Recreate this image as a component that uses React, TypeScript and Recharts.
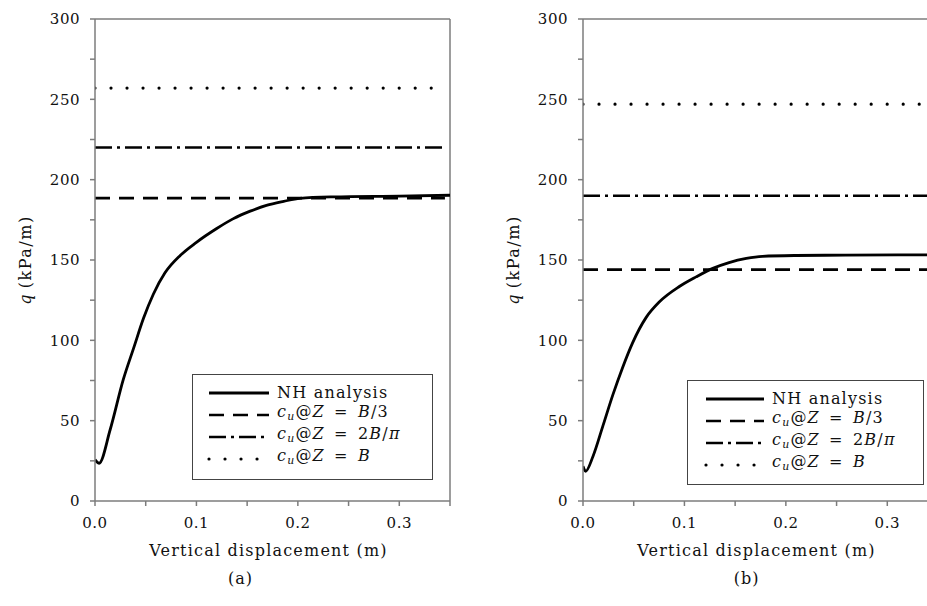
import React from "react";
import { Legend, Line, LineChart, ReferenceLine, XAxis, YAxis } from "recharts";

// axis ticks (labels only on every other tick)
const xTicks = [0, 0.05, 0.1, 0.15, 0.2, 0.25, 0.3, 0.35];
const xLabelled = [0, 0.1, 0.2, 0.3];
const yTicks = [0, 25, 50, 75, 100, 125, 150, 175, 200, 225, 250, 275, 300];
const yLabelled = [0, 50, 100, 150, 200, 250, 300];

// panel (a): NH analysis load-displacement curve
const dispA = [0, 0.004, 0.015, 0.028, 0.038, 0.048, 0.0575, 0.069, 0.084, 0.1, 0.12, 0.136, 0.153, 0.169, 0.186, 0.202, 0.235, 0.3, 0.35];
const nhA = [25.7, 23.5, 44.5, 75.8, 95, 114, 128.7, 142, 152.8, 161, 169.6, 175.6, 180.4, 184, 186.5, 188.4, 189.3, 189.8, 190.3];
// panel (a): c_u levels at Z = B/3, 2B/pi, B
const cuA = [188.5, 220, 257];

// panel (b)
const dispB = [0, 0.0026, 0.0098, 0.0197, 0.0295, 0.039, 0.049, 0.0623, 0.0754, 0.095, 0.1115, 0.128, 0.144, 0.161, 0.177, 0.21, 0.259, 0.35];
const nhB = [21.7, 18.5, 27.7, 46.9, 66.2, 83, 98.6, 114.3, 124, 133.5, 139.5, 144.8, 148.4, 151, 152.3, 152.8, 153, 153.2];
const cuB = [144, 190, 247];

const cuSpan = [0, 0.345];

const FONT = "DejaVu Serif";
const AXIS = "#7c7c7c";
const INK = "#111";

type Pt = { d: number; q: number };
const toPoints = (xs: number[], ys: number[]): Pt[] => xs.map((d, i) => ({ d, q: ys[i] }));
const flat = (level: number): Pt[] => cuSpan.map((d) => ({ d, q: level }));

const series = [
  { name: "nh", dash: undefined as string | undefined, width: 2.8, cap: "butt" },
  { name: "third", dash: "15 9", width: 2.6, cap: "butt" },
  { name: "twoOverPi", dash: "17 5 3 5", width: 2.6, cap: "butt" },
  { name: "full", dash: "0.01 16", width: 3.2, cap: "round" },
];

const Sub = ({ children }: { children: React.ReactNode }) => (
  <span style={{ fontSize: "0.68em", verticalAlign: "-0.32em", fontStyle: "italic" }}>{children}</span>
);

const legendText: Record<string, React.ReactNode> = {
  nh: <span>NH analysis</span>,
  third: (
    <span>
      <i>c</i><Sub>u</Sub>@<i>Z</i>{"\u2002=\u2002"}<i>B</i>/3
    </span>
  ),
  twoOverPi: (
    <span>
      <i>c</i><Sub>u</Sub>@<i>Z</i>{"\u2002=\u2002"}2<i>B</i>/<i>π</i>
    </span>
  ),
  full: (
    <span>
      <i>c</i><Sub>u</Sub>@<i>Z</i>{"\u2002=\u2002"}<i>B</i>
    </span>
  ),
};

function LegendBox({ width, height, sample }: { width: number; height: number; sample: [number, number] }) {
  return (
    <div
      style={{
        width,
        height,
        boxSizing: "border-box",
        border: "1.5px solid #444",
        background: "#fff",
        paddingTop: 7,
        fontFamily: FONT,
        fontSize: 16,
        letterSpacing: 1.2,
        color: INK,
      }}
    >
      {series.map((s) => (
        <div key={s.name} style={{ display: "flex", alignItems: "center", height: 22 }}>
          <svg width={sample[0] + sample[1] + 8} height={22} style={{ flex: "none" }}>
            <line
              x1={sample[0]}
              x2={sample[0] + sample[1]}
              y1={11}
              y2={11}
              stroke="#000"
              strokeWidth={s.width}
              strokeDasharray={s.dash}
              strokeLinecap={s.cap as any}
            />
          </svg>
          <div style={{ whiteSpace: "nowrap", lineHeight: "22px" }}>{legendText[s.name]}</div>
        </div>
      ))}
    </div>
  );
}

const tickStyle = { fontFamily: FONT, fontSize: 15, fill: INK, letterSpacing: 0.5 };

function Panel({
  disp,
  nh,
  cu,
  tag,
  tagShift,
  legendAt,
  legendSize,
  sample,
}: {
  disp: number[];
  nh: number[];
  cu: number[];
  tag: string;
  tagShift: number;
  legendAt: { left: number; top: number };
  legendSize: { width: number; height: number };
  sample: [number, number];
}) {
  const lines: Pt[][] = [toPoints(disp, nh), ...cu.map(flat)];

  const xTitle = (props: any) => {
    const { x, y, width } = props.viewBox;
    const cx = x + width / 2;
    return (
      <g fontFamily={FONT} fill={INK}>
        <text x={cx - 4} y={y + 55} textAnchor="middle" fontSize={16} letterSpacing={1.2}>
          Vertical displacement (m)
        </text>
        <text x={cx + tagShift} y={y + 83} textAnchor="middle" fontSize={16} letterSpacing={1}>
          ({tag})
        </text>
      </g>
    );
  };

  const yTitle = (props: any) => {
    const { y, height } = props.viewBox;
    const cy = y + height / 2;
    return (
      <text
        x={25}
        y={cy}
        transform={`rotate(-90 25 ${cy})`}
        textAnchor="middle"
        dominantBaseline="central"
        fontFamily={FONT}
        fontSize={16}
        letterSpacing={1.5}
        fill={INK}
      >
        <tspan fontStyle="italic">q</tspan>
        <tspan>{"\u2009(kPa/m)"}</tspan>
      </text>
    );
  };

  return (
    <LineChart width={470} height={606} margin={{ top: 19, right: 20, bottom: 65, left: 0 }}>
      <XAxis
        dataKey="d"
        type="number"
        domain={[0, 0.35]}
        ticks={xTicks}
        allowDataOverflow
        height={40}
        stroke={AXIS}
        strokeWidth={1.5}
        tickSize={5}
        tickMargin={11}
        tick={tickStyle}
        tickFormatter={(v: number) => (xLabelled.some((t) => Math.abs(t - v) < 1e-9) ? v.toFixed(1) : "")}
        label={{ content: xTitle }}
      />
      <YAxis
        dataKey="q"
        type="number"
        domain={[0, 300]}
        ticks={yTicks}
        width={95}
        stroke={AXIS}
        strokeWidth={1.5}
        tickSize={5}
        tickMargin={10}
        tick={tickStyle}
        tickFormatter={(v: number) => (yLabelled.includes(v) ? String(v) : "")}
        label={{ content: yTitle }}
      />
      <ReferenceLine y={300} stroke={AXIS} strokeWidth={1.5} />
      <ReferenceLine x={0.35} stroke={AXIS} strokeWidth={1.5} />
      {series.map((s, i) => (
        <Line
          key={s.name}
          name={s.name}
          data={lines[i]}
          dataKey="q"
          type="monotone"
          stroke="#000"
          strokeWidth={s.width}
          strokeDasharray={s.dash}
          strokeLinecap={s.cap as any}
          dot={false}
          activeDot={false}
          isAnimationActive={false}
        />
      ))}
      <Legend
        layout="horizontal"
        align="center"
        verticalAlign="middle"
        wrapperStyle={{ left: legendAt.left, top: legendAt.top, width: legendSize.width, height: legendSize.height }}
        content={() => <LegendBox width={legendSize.width} height={legendSize.height} sample={sample} />}
      />
    </LineChart>
  );
}

export default function App() {
  return (
    <div
      style={{
        position: "absolute",
        left: 0,
        top: 0,
        width: 927,
        height: 606,
        overflow: "hidden",
        background: "#fff",
      }}
    >
      <div style={{ position: "absolute", left: 0, top: 0 }}>
        <Panel
          disp={dispA}
          nh={nhA}
          cu={cuA}
          tag="a"
          tagShift={-32}
          legendAt={{ left: 192, top: 374 }}
          legendSize={{ width: 241, height: 106 }}
          sample={[16, 60]}
        />
      </div>
      <div style={{ position: "absolute", left: 488, top: 0 }}>
        <Panel
          disp={dispB}
          nh={nhB}
          cu={cuB}
          tag="b"
          tagShift={-14}
          legendAt={{ left: 199, top: 380 }}
          legendSize={{ width: 237, height: 105 }}
          sample={[18, 58]}
        />
      </div>
    </div>
  );
}
